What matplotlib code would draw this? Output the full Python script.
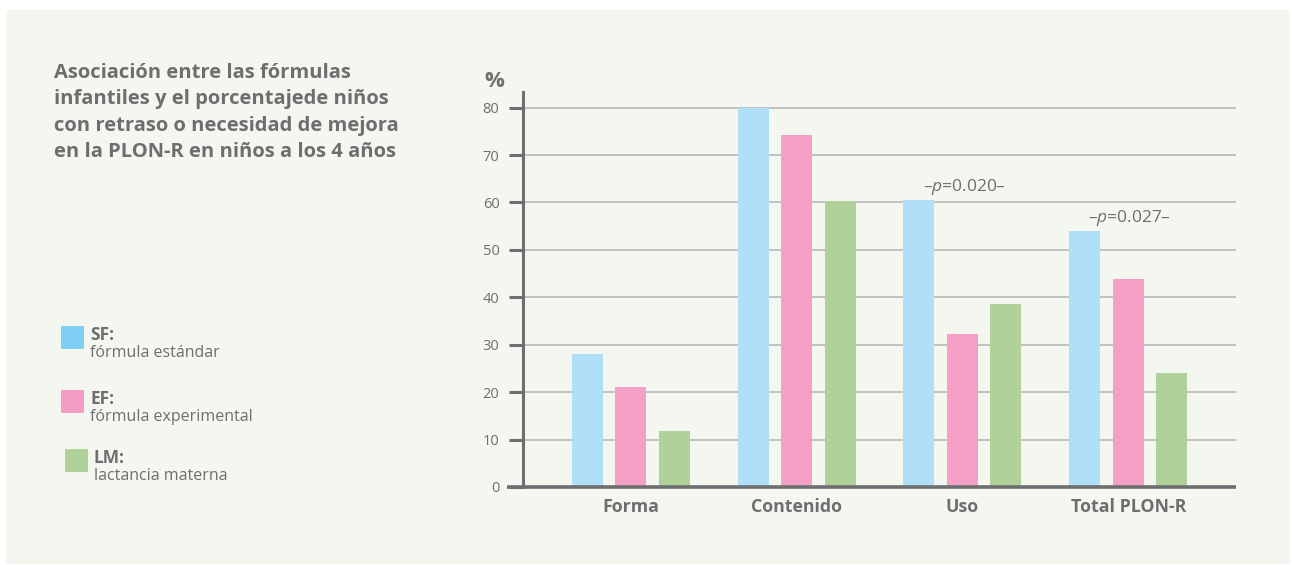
import numpy as np
import matplotlib.pyplot as plt
from matplotlib.patches import Rectangle

plt.rcParams['font.family'] = ['Open Sans', 'DejaVu Sans']
plt.rcParams['mathtext.fontset'] = 'custom'
plt.rcParams['mathtext.it'] = 'Open Sans:italic'
plt.rcParams['mathtext.rm'] = 'Open Sans'

categories = ['Forma', 'Contenido', 'Uso', 'Total PLON-R']
sf = [28.1, 80.0, 60.5, 54.0]
ef = [21.1, 74.3, 32.3, 43.9]
lm = [11.8, 60.3, 38.6, 24.1]
yticks = [0, 10, 20, 30, 40, 50, 60, 70, 80]
series_names = ['SF:', 'EF:', 'LM:']
series_desc = ['fórmula estándar', 'fórmula experimental', 'lactancia materna']
pvals = ['0.020', '0.027']
pval_idx = [2, 3]

grey = '#6d6e70'
bg = '#f4f7ef'
bar_cols = ['#b0dff7', '#f39fc6', '#b1d19a']
leg_cols = ['#80cff5', '#f29ec4', '#b1d19b']

fig = plt.figure(figsize=(12.92, 5.65), dpi=100)
fig.patch.set_facecolor('white')
fig.patches.append(Rectangle((6 / 1292, 1 / 565), 1284 / 1292, 554 / 565,
                             transform=fig.transFigure, facecolor=bg,
                             edgecolor='none', zorder=-10))

ax = fig.add_axes([523 / 1292, 78 / 565, 713 / 1292, 395 / 565])
ax.set_facecolor('none')
ax.set_zorder(5)

x = np.arange(len(categories))
w = 0.187
step = 0.262
for i, (vals, c) in enumerate(zip([sf, ef, lm], bar_cols)):
    ax.bar(x + (i - 1) * step, vals, width=w, color=c, zorder=3)

ax.set_xlim(-0.65, 3.65)
ax.set_ylim(0, 83.3)
ax.set_yticks(yticks)
ax.set_yticklabels([str(t) for t in yticks], fontsize=10.5, color=grey)
ax.set_xticks(x)
ax.set_xticklabels(categories, fontsize=12.8, fontweight='bold', color=grey)
ax.tick_params(axis='y', length=10, width=2.2, color=grey, pad=7)
ax.tick_params(axis='x', length=0, pad=8)
for t in yticks[1:]:
    ax.axhline(t, color='#bdbdbb', lw=1.3, zorder=1)

for s in ['top', 'right']:
    ax.spines[s].set_visible(False)
ax.spines['left'].set_color(grey)
ax.spines['left'].set_linewidth(2.2)
ax.spines['bottom'].set_visible(False)
ax.plot([-0.0225, 1], [0, 0], transform=ax.transAxes, color=grey, lw=2.6,
        clip_on=False, zorder=4, solid_capstyle='butt')

ax.text(-0.04, 1.0, '%', transform=ax.transAxes, fontsize=16,
        fontweight='bold', color=grey, ha='center', va='bottom')

for pv, i in zip(pvals, pval_idx):
    ax.text(x[i] + 0.01, sf[i] + 0.7, '–$p$=' + pv + '–', fontsize=12.5, color=grey,
            ha='center', va='bottom')

fig.text(54 / 1292, 1 - 63 / 565,
         'Asociación entre las fórmulas\ninfantiles y el porcentajede niños\n'
         'con retraso o necesidad de mejora\nen la PLON-R en niños a los 4 años',
         fontsize=14.5, fontweight='bold', color=grey, ha='left', va='top',
         linespacing=1.42)

sq_y = [326, 390, 449]
sq_x = [61, 61, 65]
for name, desc, c, yy, xx in zip(series_names, series_desc, leg_cols, sq_y, sq_x):
    fig.patches.append(Rectangle((xx / 1292, 1 - (yy + 23) / 565), 23 / 1292, 23 / 565,
                                 transform=fig.transFigure, facecolor=c,
                                 edgecolor='none', zorder=2))
    fig.text((xx + 29) / 1292, 1 - yy / 565, name, fontsize=12.5,
             fontweight='bold', color=grey, ha='left', va='top')
    fig.text((xx + 29) / 1292, 1 - (yy + 19) / 565, desc, fontsize=11.5,
             color=grey, ha='left', va='top')

fig.savefig('out.png', dpi=100, facecolor=fig.get_facecolor())
